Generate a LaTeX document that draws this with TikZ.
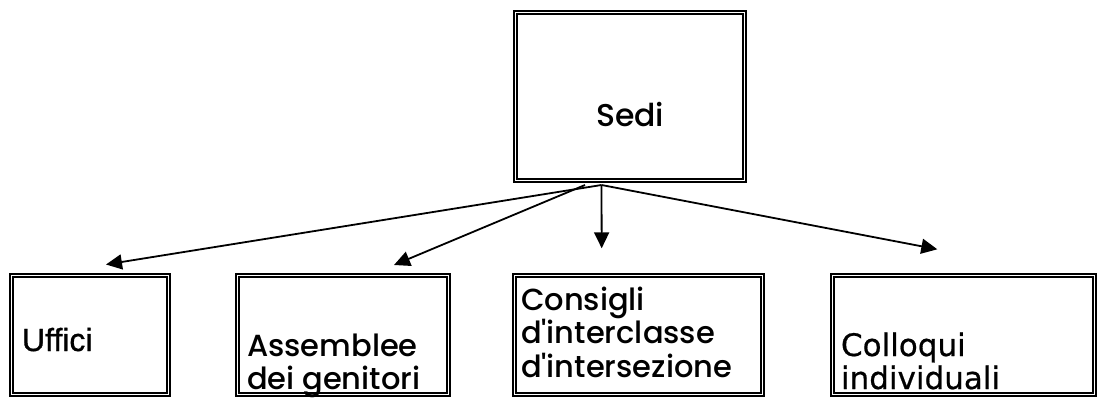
\documentclass[tikz,border=0pt]{standalone}
\usepackage{fontspec}
\newfontfamily\geo{Poppins Medium}
\newfontfamily\ari{Liberation Sans}[RawFeature={embolden=1.0}]
\newfontfamily\ver{DejaVu Sans}[RawFeature={embolden=0.6}]
\usetikzlibrary{arrows.meta,calc}
\begin{document}
\begin{tikzpicture}[x=1pt,y=-1pt,
  dbox/.style={draw,double,line width=1.7pt,double distance=1.8pt,inner sep=0pt,outer sep=0pt,minimum height=119pt},
  txt/.style={inner sep=0pt,outer sep=0pt,anchor=base west},
  geotxt/.style={txt,font=\geo\fontsize{30.5}{36}\selectfont},
  vertxt/.style={txt,font=\ver\fontsize{31}{36}\selectfont},
  arr/.style={line width=1.8pt,-{Triangle[length=16pt,width=15pt]}}]
\useasboundingbox (0,0) rectangle (1103,398);
% boxes
\node[dbox,minimum width=229pt,minimum height=168pt] (sedi) at (630,96.5) {};
\node[dbox,minimum width=157pt] (uffici) at (90,335) {};
\node[dbox,minimum width=211pt] (assemblee) at (343,335) {};
\node[dbox,minimum width=248pt] (consigli) at (638.5,335) {};
\node[dbox,minimum width=262pt] (colloqui) at (963.5,335) {};
% texts
\node[txt,font=\geo\fontsize{31.5}{40}\selectfont] (sediT) at (596,127) {Sedi};
\node[txt,font=\ari\fontsize{32}{36}\selectfont] (uffT) at (22,351) {Uffici};
\node[geotxt] (assT1) at (247,356) {Assemblee};
\node[geotxt] (assT2) at (247,389) {dei genitori};
\node[geotxt] (conT1) at (521,310) {Consigli};
\node[geotxt] (conT2) at (521,343) {d'interclasse};
\node[geotxt] (conT3) at (521,377) {d'intersezione};
\node[vertxt] (colT1) at (841,356) {Colloqui};
\node[vertxt] (colT2) at (841,389) {individuali};
% connector ends
\coordinate (apex) at ($(sedi.south)+(-28.5,4.5)$);
\coordinate (apexB) at ($(sedi.south)+(-45,4.5)$);
\coordinate (tipU) at ($(uffici.north)+(16,-11)$);
\coordinate (tipA) at ($(assemblee.north)+(51,-10.5)$);
\coordinate (tipC) at ($(consigli.north)+(-36.8,-27.2)$);
\coordinate (tipL) at ($(colloqui.north)+(-26.2,-26.2)$);
% connectors
\draw[arr] (apex) -- (tipU);
\draw[arr] (apexB) -- (tipA);
\draw[arr] (apex) -- (tipC);
\draw[arr] (apex) -- (tipL);
\end{tikzpicture}
\end{document}
